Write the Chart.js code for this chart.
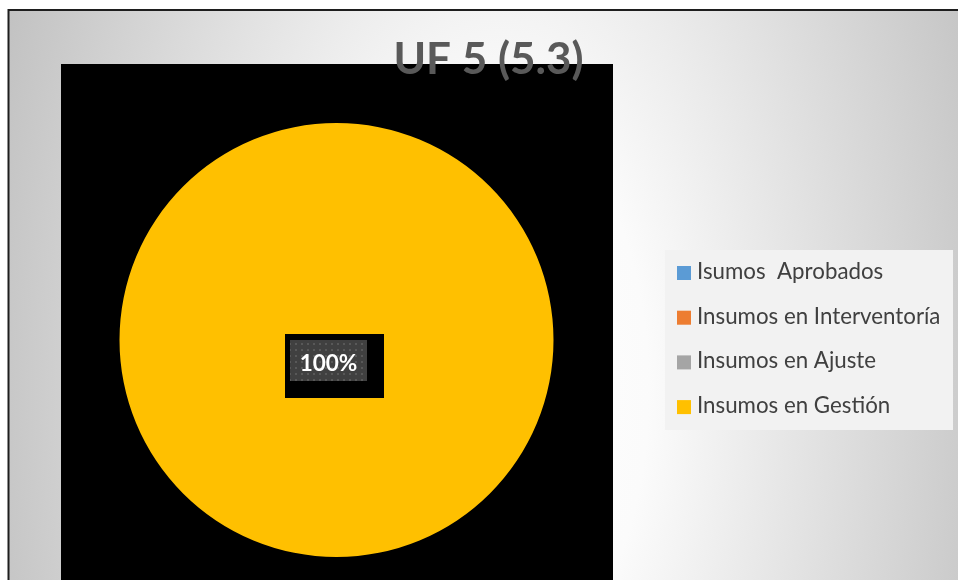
<!DOCTYPE html>
<html><head><meta charset="utf-8">
<script src="https://cdn.jsdelivr.net/npm/chart.js@4"></script>
<style>html,body{margin:0;padding:0;background:#fff;}canvas{display:block}</style>
</head><body>
<canvas id="c" width="958" height="580"></canvas>
<script>
const chartTitle = 'UF 5 (5.3)';
const categories = ['Isumos  Aprobados', 'Insumos en Interventoría', 'Insumos en Ajuste', 'Insumos en Gestión'];
const values = [0, 0, 0, 100];
const sliceColors = ['#5B9BD5', '#ED7D31', '#A5A5A5', '#FFC000'];

const FONT = 'Lato, "Open Sans", "Liberation Sans", sans-serif';

const backdrop = {
  id: 'backdrop',
  beforeDraw(chart) {
    const ctx = chart.ctx;
    ctx.save();
    ctx.fillStyle = '#ffffff';
    ctx.fillRect(0, 0, chart.width, chart.height);
    // gradient chart background
    ctx.save();
    ctx.beginPath(); ctx.rect(9, 11, chart.width, chart.height); ctx.clip();
    ctx.translate(500, 390); ctx.scale(1, 1.9);
    const g = ctx.createRadialGradient(0, 0, 0, 0, 0, 530);
    g.addColorStop(0, '#ffffff'); g.addColorStop(0.28, '#fbfbfb'); g.addColorStop(1, '#c2c2c2');
    ctx.fillStyle = g; ctx.fillRect(-700, -300, 1400, 600);
    ctx.restore();
    // frame
    ctx.strokeStyle = '#1e1e1e'; ctx.lineWidth = 2;
    ctx.strokeRect(8.5, 10, chart.width + 20, chart.height + 20);
    // black plot area
    ctx.fillStyle = '#000000';
    ctx.fillRect(61, 64, 552, chart.height);
    // title
    ctx.fillStyle = '#595959';
    ctx.font = 'bold 44px ' + FONT;
    ctx.textAlign = 'center'; ctx.textBaseline = 'alphabetic';
    ctx.fillText(chartTitle, 488.5, 74);
    // legend
    ctx.fillStyle = '#f2f2f2';
    ctx.fillRect(665, 250, 288, 180);
    ctx.font = '22.3px ' + FONT;
    ctx.textAlign = 'left';
    const ds = chart.data.datasets[0];
    chart.data.labels.forEach((lab, i) => {
      const base = 279 + i * 44.7;
      ctx.fillStyle = ds.backgroundColor[i];
      ctx.fillRect(677, base - 13, 14, 14);
      ctx.fillStyle = '#404040';
      ctx.fillText(lab, 697, base);
    });
    ctx.restore();
  }
};

function dotPattern(ctx) {
  const p = document.createElement('canvas'); p.width = 6; p.height = 6;
  const pc = p.getContext('2d');
  pc.fillStyle = '#404040'; pc.fillRect(0, 0, 6, 6);
  pc.fillStyle = '#585858'; pc.fillRect(1, 1, 2, 2);
  return ctx.createPattern(p, 'repeat');
}

const dataLabels = {
  id: 'dataLabels',
  afterDatasetsDraw(chart) {
    const ctx = chart.ctx;
    const meta = chart.getDatasetMeta(0);
    const total = values.reduce((a, b) => a + b, 0);
    ctx.save();
    meta.data.forEach((arc, i) => {
      const v = values[i];
      if (!v) return;
      const pct = Math.round(v / total * 100) + '%';
      let cx, cy;
      if (v === total) { cx = arc.x - 8; cy = arc.y + 20.5; }
      else { const p = arc.tooltipPosition(); cx = p.x; cy = p.y; }
      const w = 77, h = 41;
      const x0 = cx - w / 2, y0 = cy - h / 2;
      ctx.fillStyle = '#000000';
      ctx.fillRect(x0 - 5, y0 - 6, w + 22, h + 23);
      ctx.fillStyle = dotPattern(ctx);
      ctx.fillRect(x0, y0, w, h);
      ctx.fillStyle = '#ffffff';
      ctx.font = 'bold 22.5px ' + FONT;
      ctx.textAlign = 'center'; ctx.textBaseline = 'alphabetic';
      ctx.fillText(pct, cx, cy + 10.5);
    });
    ctx.restore();
  }
};

new Chart(document.getElementById('c'), {
  type: 'pie',
  data: {
    labels: categories,
    datasets: [{ data: values, backgroundColor: sliceColors, borderWidth: 0 }]
  },
  options: {
    responsive: false,
    devicePixelRatio: 1,
    animation: false,
    events: [],
    layout: { padding: { left: 119.5, right: 404.5, top: 123, bottom: 23 } },
    plugins: { legend: { display: false }, title: { display: false }, tooltip: { enabled: false } }
  },
  plugins: [backdrop, dataLabels]
});
</script>
</body></html>
